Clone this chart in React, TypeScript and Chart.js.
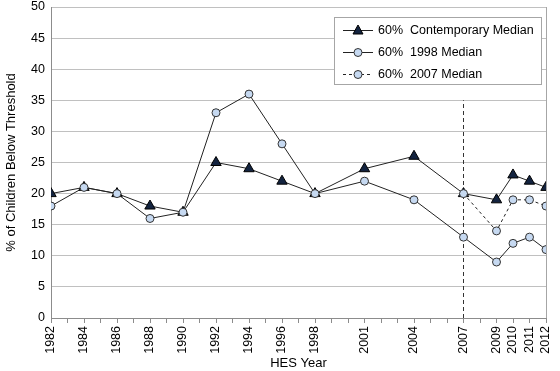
import React, { useEffect, useRef } from "react";
import { Chart, registerables } from "chart.js";

Chart.register(...registerables);

const years = [1982, 1984, 1986, 1988, 1990, 1992, 1994, 1996, 1998, 2001, 2004, 2007, 2009, 2010, 2011, 2012];
const contemporary = [20, 21, 20, 18, 17, 25, 24, 22, 20, 24, 26, 20, 19, 23, 22, 21];
const median1998 = [18, 21, 20, 16, 17, 33, 36, 28, 20, 22, 19, 13, 9, 12, 13, 11];
const years2007 = [2007, 2009, 2010, 2011, 2012];
const median2007 = [20, 14, 19, 19, 18];
const markerYear = 2007;
const markerTop = 35;
const tickLabelYears = [1982, 1984, 1986, 1988, 1990, 1992, 1994, 1996, 1998, 2001, 2004, 2007, 2009, 2010, 2011, 2012];
const legendLabels = ["60%  Contemporary Median", "60%  1998 Median", "60%  2007 Median"];

const FONT = "'Liberation Sans', Arial, sans-serif";
const TRI_FILL = "#13233f";
const CIRC_FILL = "#c6d9f1";
const LINE = "#222222";

const boxPlugin = {
  id: "boxAndLegend",
  afterDatasetsDraw(chart: any) {
    const { ctx, chartArea } = chart;
    ctx.save();
    ctx.strokeStyle = "#a6a6a6";
    ctx.lineWidth = 1;
    ctx.beginPath();
    ctx.moveTo(Math.round(chartArea.right) + 0.5, chartArea.top);
    ctx.lineTo(Math.round(chartArea.right) + 0.5, chartArea.bottom);
    ctx.stroke();
    ctx.restore();
  },
  afterDraw(chart: any) {
    const { ctx } = chart;
    ctx.save();
    const bx = 334.5, by = 17.5, bw = 207, bh = 67;
    ctx.fillStyle = "#ffffff";
    ctx.fillRect(bx, by, bw, bh);
    ctx.strokeStyle = "#a6a6a6";
    ctx.lineWidth = 1;
    ctx.strokeRect(bx, by, bw, bh);
    const rows = [30, 52, 74];
    ctx.font = "12.5px " + FONT;
    ctx.textBaseline = "middle";
    rows.forEach((ry, i) => {
      ctx.strokeStyle = LINE;
      ctx.lineWidth = 1;
      ctx.setLineDash(i === 2 ? [3, 3] : []);
      ctx.beginPath();
      ctx.moveTo(343, ry + 0.5);
      ctx.lineTo(373, ry + 0.5);
      ctx.stroke();
      ctx.setLineDash([]);
      const cx = 358;
      if (i === 0) {
        ctx.fillStyle = TRI_FILL;
        ctx.strokeStyle = "#000";
        ctx.beginPath();
        ctx.moveTo(cx, ry - 5);
        ctx.lineTo(cx + 5, ry + 4);
        ctx.lineTo(cx - 5, ry + 4);
        ctx.closePath();
        ctx.fill();
        ctx.stroke();
      } else {
        ctx.fillStyle = CIRC_FILL;
        ctx.strokeStyle = "#333";
        ctx.beginPath();
        ctx.arc(cx, ry + 0.5, 4, 0, Math.PI * 2);
        ctx.fill();
        ctx.stroke();
      }
      ctx.fillStyle = "#000";
      ctx.fillText(legendLabels[i], 378, ry + 1);
    });
    ctx.restore();
  },
};

export default function App() {
  const ref = useRef<HTMLCanvasElement | null>(null);
  useEffect(() => {
    document.body.style.margin = "0";
    const canvas = ref.current;
    if (!canvas) return;
    const chart = new Chart(canvas, {
      type: "line",
      data: {
        datasets: [
          {
            label: legendLabels[1],
            data: years.map((x, i) => ({ x, y: median1998[i] })),
            borderColor: LINE,
            borderWidth: 1,
            pointStyle: "circle",
            pointRadius: 4,
            pointBackgroundColor: CIRC_FILL,
            pointBorderColor: "#333",
            pointBorderWidth: 1,
            order: 1,
          },
          {
            label: legendLabels[2],
            data: years2007.map((x, i) => ({ x, y: median2007[i] })),
            borderColor: LINE,
            borderWidth: 1,
            borderDash: [3, 3],
            pointStyle: "circle",
            pointRadius: 4,
            pointBackgroundColor: CIRC_FILL,
            pointBorderColor: "#333",
            pointBorderWidth: 1,
            order: 2,
          },
          {
            label: legendLabels[0],
            data: years.map((x, i) => ({ x, y: contemporary[i] })),
            borderColor: LINE,
            borderWidth: 1,
            pointStyle: "triangle",
            pointRadius: 6,
            pointBackgroundColor: TRI_FILL,
            pointBorderColor: "#000",
            pointBorderWidth: 1,
            order: 3,
          },
          {
            label: "marker",
            data: [{ x: markerYear, y: 0 }, { x: markerYear, y: markerTop }],
            borderColor: "#333",
            borderWidth: 1,
            borderDash: [4, 3],
            pointRadius: 0,
            order: 4,
          },
        ],
      },
      options: {
        animation: false,
        responsive: false,
        layout: { padding: { top: 7, right: 14, left: 0, bottom: 0 } },
        plugins: { legend: { display: false }, tooltip: { enabled: false } },
        scales: {
          x: {
            type: "linear",
            min: 1982,
            max: 2012,
            afterBuildTicks: (scale: any) => {
              const t = [];
              for (let y = 1982; y <= 2012; y++) t.push({ value: y });
              scale.ticks = t;
            },
            afterFit: (scale: any) => {
              scale.height = 53;
              scale.paddingLeft = 0;
              scale.paddingRight = 0;
            },
            ticks: {
              autoSkip: false,
              minRotation: 90,
              maxRotation: 90,
              padding: 3,
              color: "#000",
              font: { family: FONT, size: 12.5 },
              callback: (v: any) => (tickLabelYears.includes(v) ? String(v) : ""),
            },
            grid: { drawOnChartArea: false, tickLength: 5, color: "#8c8c8c" },
            border: { color: "#8c8c8c" },
            title: {
              display: true,
              text: "HES Year",
              color: "#000",
              font: { family: FONT, size: 13 },
              padding: { top: 0, bottom: 0 },
            },
          },
          y: {
            min: 0,
            max: 50,
            afterFit: (scale: any) => {
              scale.width = 51;
              scale.paddingTop = 0;
              scale.paddingBottom = 0;
            },
            ticks: {
              stepSize: 5,
              color: "#000",
              padding: 6,
              font: { family: FONT, size: 12.5 },
            },
            grid: { color: "#c0c0c0", drawTicks: false },
            border: { color: "#8c8c8c" },
            title: {
              display: true,
              text: "% of Children Below Threshold",
              color: "#000",
              font: { family: FONT, size: 13 },
              padding: { top: 4, bottom: 0 },
            },
          },
        },
      },
      plugins: [boxPlugin],
    } as any);
    return () => chart.destroy();
  }, []);
  return (
    <div style={{ width: 560, height: 371 }}>
      <canvas ref={ref} width={560} height={371} style={{ display: "block" }} />
    </div>
  );
}
